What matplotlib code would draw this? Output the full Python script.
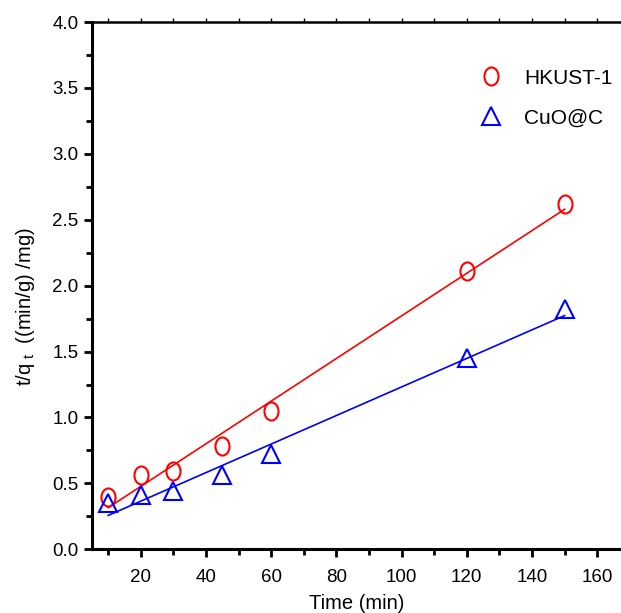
import numpy as np
import matplotlib
matplotlib.use('Agg')
import matplotlib.pyplot as plt
from matplotlib.path import Path
from matplotlib.ticker import MultipleLocator, FormatStrFormatter

plt.rcParams['font.family'] = ['Liberation Sans', 'DejaVu Sans']

# dados
tempo = [10, 20, 30, 45, 60, 120, 150]
hkust = [0.40, 0.56, 0.59, 0.78, 1.05, 2.11, 2.62]
cuo_c = [0.35, 0.41, 0.44, 0.56, 0.72, 1.45, 1.82]

# marcador elíptico (círculo mais alto que largo)
circ = Path.unit_circle()
elipse = Path(circ.vertices * np.array([0.78, 1.0]), circ.codes)

fig = plt.figure(figsize=(6.21, 6.13), dpi=100)
ax = fig.add_axes([0.148, 0.104, 0.852, 0.860])

x = np.array(tempo)
for y, cor, mk, nome in [(hkust, 'red', elipse, 'HKUST-1'), (cuo_c, 'blue', '^', 'CuO@C')]:
    a, b = np.polyfit(x, y, 1)
    ax.plot([x.min(), x.max()], [a * x.min() + b, a * x.max() + b], color=cor, lw=1.2)
    ax.plot(x, y, linestyle='none', marker=mk, markersize=13,
            markerfacecolor='none', markeredgecolor=cor, markeredgewidth=1.5, label=nome)

ax.set_xlim(5, 167.3)
ax.set_ylim(0, 4.0)
ax.set_xticks([20, 40, 60, 80, 100, 120, 140, 160])
ax.xaxis.set_minor_locator(MultipleLocator(10))
ax.yaxis.set_major_locator(MultipleLocator(0.5))
ax.yaxis.set_minor_locator(MultipleLocator(0.25))
ax.yaxis.set_major_formatter(FormatStrFormatter('%.1f'))

ax.spines['right'].set_visible(False)
ax.spines['left'].set_linewidth(2.2)
ax.spines['bottom'].set_linewidth(2.2)
ax.spines['top'].set_linewidth(1.8)
ax.tick_params(which='major', direction='out', length=6, width=2, labelsize=13.5)
ax.tick_params(which='minor', direction='out', length=4, width=2)
ax.tick_params(axis='x', which='both', top=False, pad=8)

top = ax.secondary_xaxis('top')
top.set_xticks(np.arange(10, 161, 10))
top.tick_params(direction='out', length=3, width=1, labeltop=False)
top.spines['top'].set_visible(False)

ax.set_xlabel('Time (min)', fontsize=14.5, labelpad=6)
ax.set_ylabel(r't/q$_{\ \mathregular{t}}$  ((min/g) /mg)', fontsize=14.5)
ax.yaxis.set_label_coords(-0.103, 0.46)

ax.legend(loc='upper right', bbox_to_anchor=(1.02, 0.947), frameon=False, fontsize=15,
          handletextpad=0.6, labelspacing=1.0)

fig.savefig('out.png', dpi=100)
